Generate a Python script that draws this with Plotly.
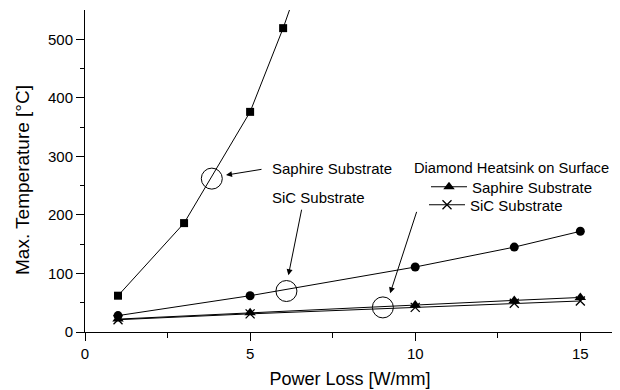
import plotly.graph_objects as go

# Data
x_sap = [1, 3, 5, 6, 7]
y_sap = [62, 186, 376, 519, 680]
x_sic = [1, 5, 10, 13, 15]
y_sic = [28, 62, 111, 145, 172]
x_dia = [1, 5, 10, 13, 15]
y_dia_sap = [22, 33, 46, 54, 59]
y_dia_sic = [21, 31, 42, 49, 53]

FONT = "Liberation Sans, Arial, sans-serif"
TF = 15

fig = go.Figure()
fig.add_trace(go.Scatter(x=x_sap, y=y_sap, mode="lines+markers", showlegend=False,
                         line=dict(color="black", width=1),
                         marker=dict(symbol="square", size=8, color="black")))
fig.add_trace(go.Scatter(x=x_sic, y=y_sic, mode="lines+markers", showlegend=False,
                         line=dict(color="black", width=1),
                         marker=dict(symbol="circle", size=9, color="black")))
fig.add_trace(go.Scatter(x=x_dia, y=y_dia_sap, mode="lines+markers", name="Saphire Substrate",
                         legend="legend",
                         line=dict(color="black", width=1),
                         marker=dict(symbol="triangle-up", size=10, color="black")))
fig.add_trace(go.Scatter(x=x_dia, y=y_dia_sic, mode="lines+markers", name="SiC Substrate",
                         legend="legend2",
                         line=dict(color="black", width=1),
                         marker=dict(symbol="x-thin", size=9, color="black",
                                     line=dict(color="black", width=1.3))))

for cx, cy in [(3.84, 262), (6.10, 70), (9.02, 42)]:
    fig.add_shape(type="circle", xref="x", yref="y", xsizemode="pixel", ysizemode="pixel",
                  xanchor=cx, yanchor=cy, x0=-10.5, x1=10.5, y0=-10.5, y1=10.5,
                  line=dict(color="black", width=1))

for hx, hy, ax, ay in [(4.27, 268, 37, -6), (6.16, 97, 13.5, -67), (9.24, 66, 27, -83)]:
    fig.add_annotation(x=hx, y=hy, ax=ax, ay=ay, text="", showarrow=True,
                       arrowhead=2, arrowsize=1.2, arrowwidth=1, arrowcolor="black", standoff=0)

fig.add_annotation(x=5.60, y=280, text="Saphire Substrate", showarrow=False, xanchor="left",
                   font=dict(size=TF, color="black", family=FONT))
fig.add_annotation(x=5.60, y=229, text="SiC Substrate", showarrow=False, xanchor="left",
                   font=dict(size=TF, color="black", family=FONT))
fig.add_annotation(xref="paper", yref="paper", x=(413 - 85) / 530, y=(332 - 168) / 322,
                   xanchor="left", yanchor="middle", text="Diamond Heatsink on Surface",
                   showarrow=False, borderpad=0,
                   font=dict(size=14.7, color="black", family=FONT))
fig.add_annotation(xref="paper", yref="paper", x=(22 - 85) / 530, y=(332 - 180) / 322,
                   xanchor="center", yanchor="middle",
                   text="Max. Temperature [°C]", textangle=-90, showarrow=False,
                   font=dict(size=19, color="black", family=FONT))

leg_common = dict(xanchor="left", yanchor="middle", bgcolor="rgba(0,0,0,0)",
                  borderwidth=0, itemwidth=36, font=dict(size=TF))

# page is shown with an 8px body margin: figure occupies page x 8..620, y 8..390
fig.update_layout(
    width=612, height=382,
    margin=dict(l=77, r=5, t=2, b=58, autoexpand=False),
    plot_bgcolor="white", paper_bgcolor="white",
    font=dict(family=FONT, size=TF, color="black"),
    legend=dict(x=(426 - 85) / 530, y=(332 - 187) / 322, **leg_common),
    legend2=dict(x=(424 - 85) / 530, y=(332 - 205) / 322, **leg_common),
    xaxis=dict(range=[0, 16.05], showgrid=False, zeroline=False, showline=True,
               linecolor="black", linewidth=1, ticks="outside", ticklen=8, tickcolor="black",
               tickvals=[0, 5, 10, 15], ticktext=["0", "5", "10", "15"],
               minor=dict(tickvals=[2.5, 7.5, 12.5], ticks="outside", ticklen=5, tickcolor="black"),
               title=dict(text="Power Loss [W/mm]", font=dict(size=18), standoff=11)),
    yaxis=dict(range=[0, 550], showgrid=False, zeroline=False, showline=True,
               linecolor="black", linewidth=1, ticks="outside", ticklen=8, tickcolor="black",
               tickvals=[0, 100, 200, 300, 400, 500],
               minor=dict(tickvals=[50, 150, 250, 350, 450], ticks="outside", ticklen=4, tickcolor="black")),
)

fig.write_html("out.html")
